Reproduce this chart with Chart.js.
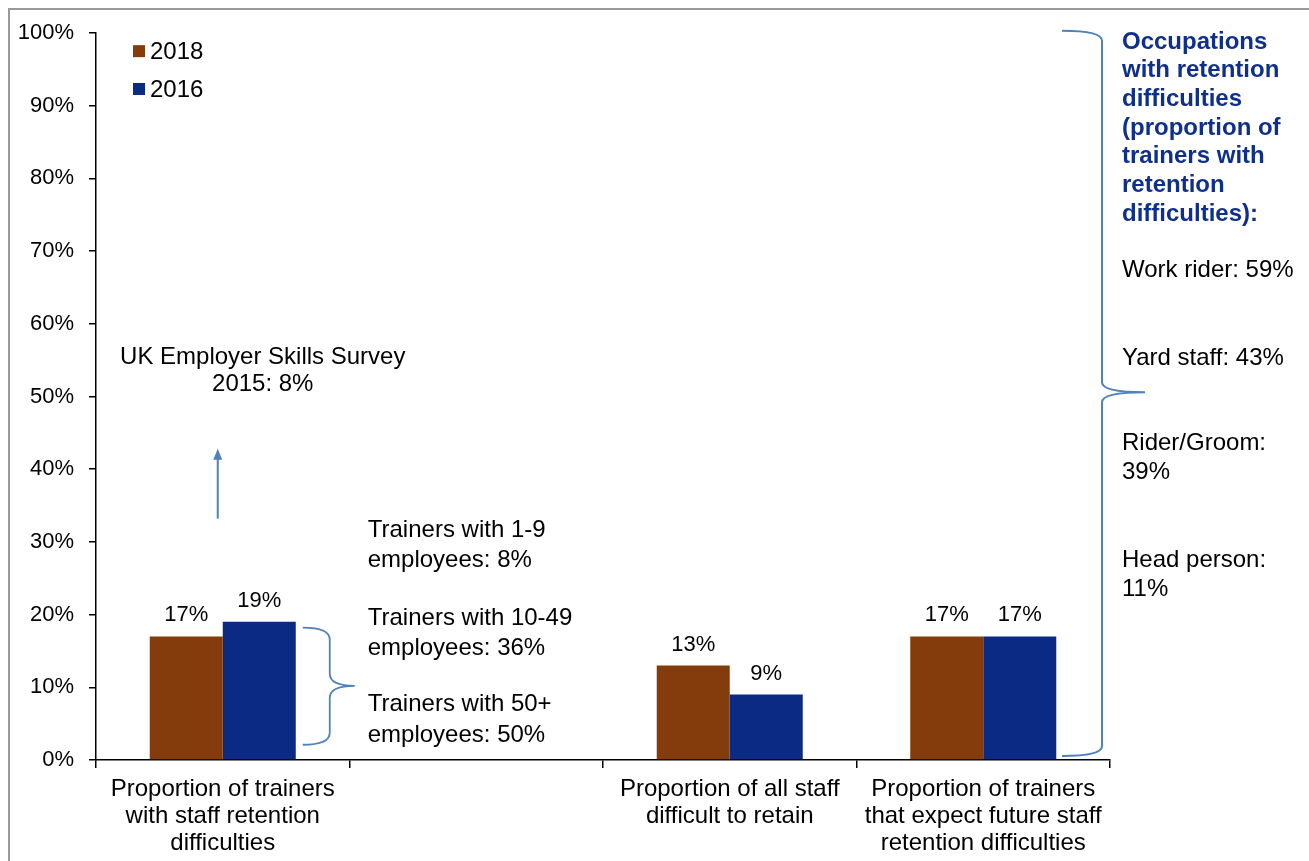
<!DOCTYPE html>
<html>
<head>
<meta charset="utf-8">
<script src="https://cdn.jsdelivr.net/npm/chart.js@4.4.1/dist/chart.umd.min.js"></script>
<style>
  html, body { margin: 0; padding: 0; background: #fff; }
  #wrap { width: 1309px; height: 861px; position: relative; }
</style>
</head>
<body>
<div id="wrap"><canvas id="chart" width="1309" height="861"></canvas></div>
<script>
// ---- data ----
const categories = [
  ['Proportion of trainers', 'with staff retention', 'difficulties'],
  '',
  ['Proportion of all staff', 'difficult to retain'],
  ['Proportion of trainers', 'that expect future staff', 'retention difficulties']
];
const seriesNames = ['2018', '2016'];
const values2018 = [17, null, 13, 17];
const values2016 = [19, null, 9, 17];
const yMin = 0, yMax = 100, yStep = 10;

const sizeNotes = ['Trainers with 1-9', 'employees: 8%', 'Trainers with 10-49', 'employees: 36%', 'Trainers with 50+', 'employees: 50%'];
const surveyNote = ['UK Employer Skills Survey', '2015: 8%'];
const occupationTitle = ['Occupations', 'with retention', 'difficulties', '(proportion of', 'trainers with', 'retention', 'difficulties):'];
const occupationNotes = [['Work rider: 59%'], ['Yard staff: 43%'], ['Rider/Groom:', '39%'], ['Head person:', '11%']];

// ---- styles ----
const FONT = '"Liberation Sans", Arial, sans-serif';
const FS_TICK = 22;   // axis ticks and value labels
const FS_TEXT = 24;   // category labels, legend and notes
const BROWN = '#843C0C';
const BLUE = '#0B2A83';
const NOTE_BLUE = '#0F2F8C';
const BRACE = '#4F81BD';

function brace(ctx, xEnd, xMid, xTip, yTop, yTip, yBot, r) {
  ctx.beginPath();
  ctx.moveTo(xEnd, yTop);
  ctx.quadraticCurveTo(xMid, yTop, xMid, yTop + r);
  ctx.lineTo(xMid, yTip - r);
  ctx.quadraticCurveTo(xMid, yTip, xTip, yTip);
  ctx.moveTo(xTip, yTip);
  ctx.quadraticCurveTo(xMid, yTip, xMid, yTip + r);
  ctx.lineTo(xMid, yBot - r);
  ctx.quadraticCurveTo(xMid, yBot, xEnd, yBot);
  ctx.stroke();
}

const framePlugin = {
  id: 'frame',
  beforeDraw(chart) {
    const ctx = chart.ctx;
    ctx.save();
    ctx.fillStyle = '#fff';
    ctx.fillRect(0, 0, chart.width, chart.height);
    ctx.strokeStyle = '#9a9a9a';
    ctx.lineWidth = 2;
    ctx.strokeRect(9, 9, chart.width + 50, chart.height + 50);
    ctx.restore();
  }
};

const valueLabels = {
  id: 'valueLabels',
  afterDatasetsDraw(chart) {
    const ctx = chart.ctx;
    ctx.save();
    ctx.font = FS_TICK + 'px ' + FONT;
    ctx.fillStyle = '#000';
    ctx.textAlign = 'center';
    ctx.textBaseline = 'middle';
    chart.data.datasets.forEach((ds, i) => {
      chart.getDatasetMeta(i).data.forEach((el, j) => {
        const v = ds.data[j];
        if (v === null || v === undefined) return;
        ctx.fillText(v + '%', el.x, el.y - 21);
      });
    });
    ctx.restore();
  }
};

const notes = {
  id: 'notes',
  afterDraw(chart) {
    const ctx = chart.ctx;
    const xs = chart.scales.x, ys = chart.scales.y;
    const Y = v => ys.getPixelForValue(v);
    const c0 = xs.getPixelForValue(0);
    const area = chart.chartArea;
    ctx.save();

    // legend
    ctx.font = FS_TEXT + 'px ' + FONT;
    ctx.textBaseline = 'middle';
    ctx.textAlign = 'left';
    chart.data.datasets.forEach((ds, i) => {
      const y = Y(97.5 - i * 5.2);
      ctx.fillStyle = ds.backgroundColor;
      ctx.fillRect(area.left + 37, y - 6, 12, 12);
      ctx.fillStyle = '#000';
      ctx.fillText(ds.label, area.left + 54, y + 1);
    });

    // survey note and arrow
    ctx.textAlign = 'center';
    ctx.fillText(surveyNote[0], c0 + 40, Y(55.4));
    ctx.fillText(surveyNote[1], c0 + 40, Y(51.6));
    ctx.strokeStyle = BRACE;
    ctx.fillStyle = BRACE;
    ctx.lineWidth = 2;
    const ax = c0 - 5;
    ctx.beginPath();
    ctx.moveTo(ax, Y(33.2));
    ctx.lineTo(ax, Y(41.6));
    ctx.stroke();
    ctx.beginPath();
    ctx.moveTo(ax, Y(42.8));
    ctx.lineTo(ax - 4.5, Y(41.3));
    ctx.lineTo(ax + 4.5, Y(41.3));
    ctx.closePath();
    ctx.fill();

    // trainer size notes + brace
    ctx.fillStyle = '#000';
    ctx.textAlign = 'left';
    const sizeY = [31.6, 27.4, 19.5, 15.4, 7.6, 3.4];
    sizeNotes.forEach((t, i) => ctx.fillText(t, c0 + 145, Y(sizeY[i])));
    ctx.lineWidth = 1.8;
    brace(ctx, c0 + 80, c0 + 107, c0 + 132, Y(18.2), Y(10.2), Y(2.1), 12);

    // occupation brace and notes
    const rx = area.right;
    ctx.lineWidth = 2;
    brace(ctx, rx - 48, rx - 8, rx + 35, Y(100.3), Y(50.6), Y(0.55), 10);

    ctx.fillStyle = NOTE_BLUE;
    ctx.font = 'bold ' + FS_TEXT + 'px ' + FONT;
    occupationTitle.forEach((t, i) => ctx.fillText(t, rx + 12, 42 + i * 28.7));
    ctx.fillStyle = '#000';
    ctx.font = FS_TEXT + 'px ' + FONT;
    const occY = [67.3, 55.3, 43.5, 27.5];
    occupationNotes.forEach((lines, i) => {
      lines.forEach((t, k) => ctx.fillText(t, rx + 12, Y(occY[i]) + k * 29));
    });
    ctx.restore();
  }
};

new Chart(document.getElementById('chart'), {
  type: 'bar',
  data: {
    labels: categories,
    datasets: [
      { label: seriesNames[0], data: values2018, backgroundColor: BROWN, borderWidth: 0 },
      { label: seriesNames[1], data: values2016, backgroundColor: BLUE, borderWidth: 0 }
    ]
  },
  options: {
    responsive: false,
    animation: false,
    devicePixelRatio: 1,
    categoryPercentage: 0.576,
    barPercentage: 1.0,
    layout: { padding: { left: 0, right: 199, top: 33, bottom: 0 } },
    plugins: { legend: { display: false }, tooltip: { enabled: false } },
    scales: {
      x: {
        offset: true,
        grid: { offset: true, drawOnChartArea: false, tickLength: 8, color: '#000', lineWidth: 1.5 },
        border: { color: '#000', width: 1.5 },
        ticks: { color: '#000', font: { family: FONT, size: FS_TEXT, lineHeight: 1.125 }, padding: 8, maxRotation: 0, autoSkip: false },
        afterFit(s) { s.height = 101; }
      },
      y: {
        min: yMin, max: yMax,
        grid: { drawOnChartArea: false, tickLength: 7, color: '#000', lineWidth: 1.5 },
        border: { color: '#000', width: 1.5 },
        ticks: { stepSize: yStep, color: '#000', font: { family: FONT, size: FS_TICK }, padding: 15, callback: v => v + '%' },
        afterFit(s) { s.width = 96; }
      }
    }
  },
  plugins: [framePlugin, valueLabels, notes]
});
</script>
</body>
</html>
